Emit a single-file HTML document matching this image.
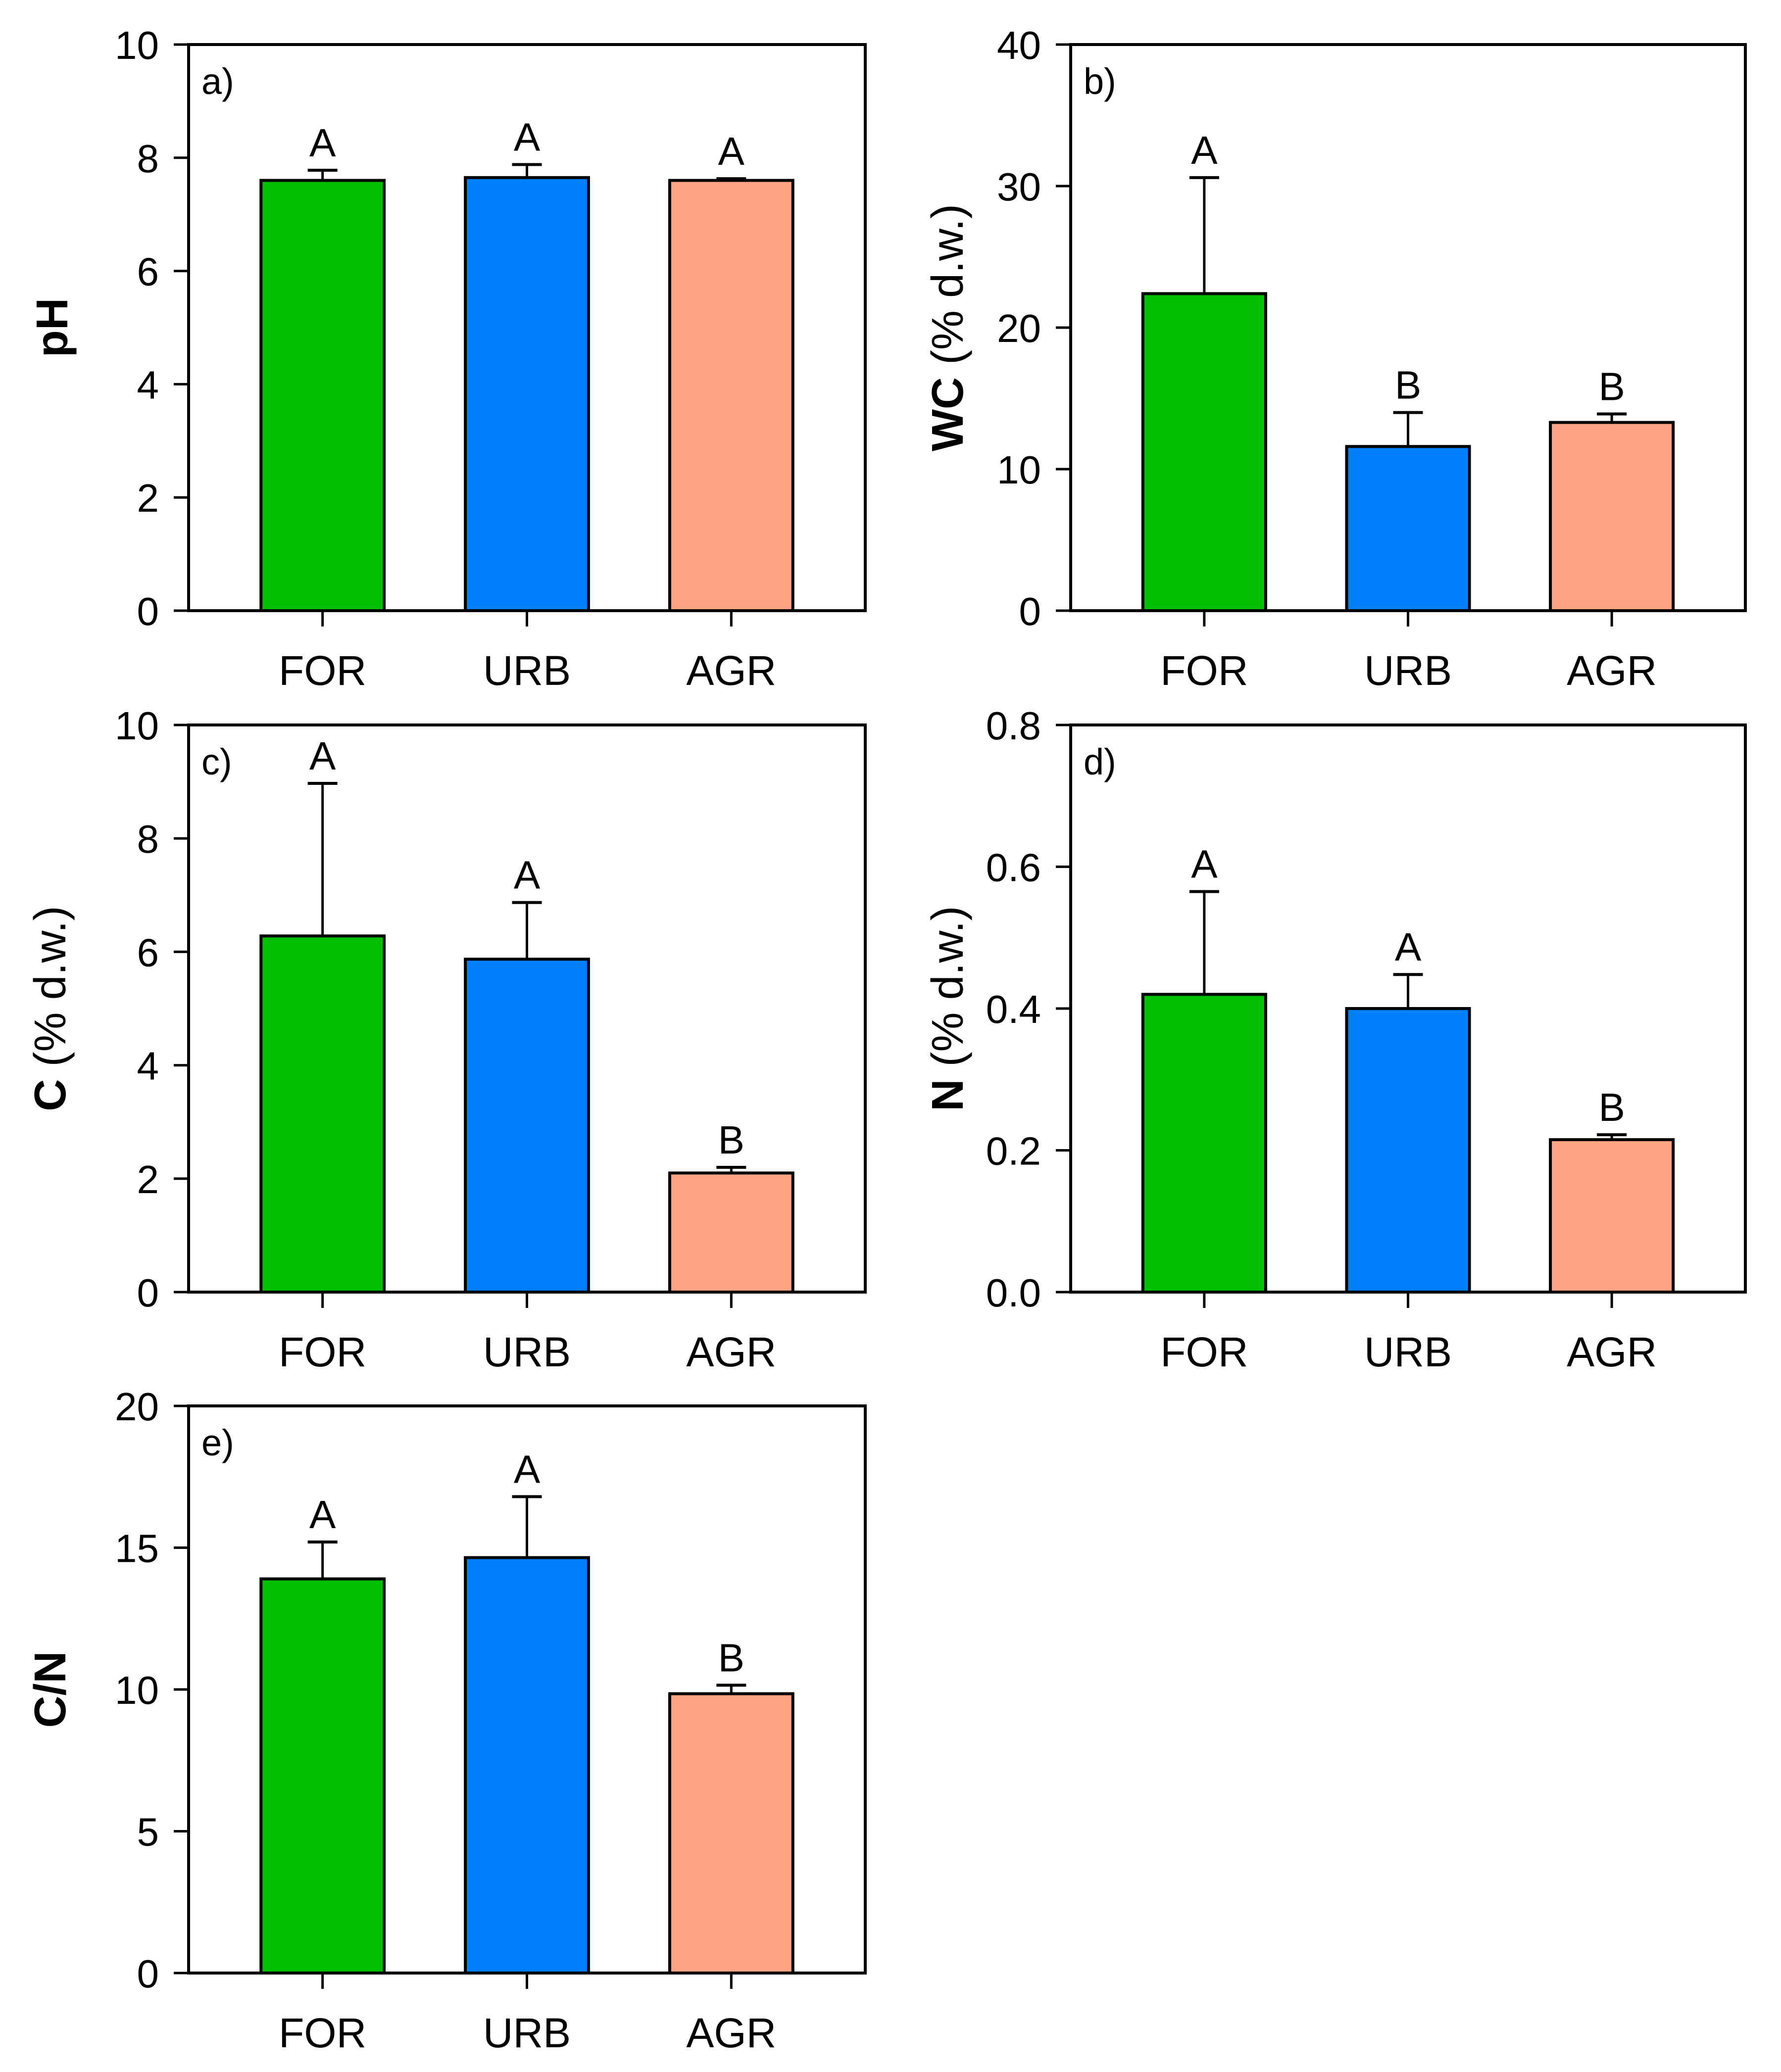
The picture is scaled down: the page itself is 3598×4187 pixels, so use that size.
<!DOCTYPE html>
<html><head><meta charset="utf-8"><style>
html,body{margin:0;padding:0;background:#fff}
svg{display:block}
text{font-family:"Liberation Sans",Arial,sans-serif;fill:#000}
</style></head><body>
<svg id="fig" width="3598" height="4187" viewBox="0 0 3598 4187" xmlns="http://www.w3.org/2000/svg"></svg>
<script>
const categories = ["FOR", "URB", "AGR"];
const barColors = ["#00BF00", "#0080FF", "#FFA383"];
const pHMeans = [7.6, 7.65, 7.6];
const pHErr = [0.18, 0.23, 0.03];
const pHLetters = ["A", "A", "A"];
const pHTicks = ["0", "2", "4", "6", "8", "10"];
const wcMeans = [22.4, 11.6, 13.3];
const wcErr = [8.2, 2.4, 0.6];
const wcLetters = ["A", "B", "B"];
const wcTicks = ["0", "10", "20", "30", "40"];
const cMeans = [6.28, 5.87, 2.1];
const cErr = [2.69, 1.0, 0.1];
const cLetters = ["A", "A", "B"];
const cTicks = ["0", "2", "4", "6", "8", "10"];
const nMeans = [0.42, 0.40, 0.215];
const nErr = [0.145, 0.048, 0.007];
const nLetters = ["A", "A", "B"];
const nTicks = ["0.0", "0.2", "0.4", "0.6", "0.8"];
const cnMeans = [13.9, 14.65, 9.85];
const cnErr = [1.3, 2.15, 0.3];
const cnLetters = ["A", "A", "B"];
const cnTicks = ["0", "5", "10", "15", "20"];

const NS = "http://www.w3.org/2000/svg";
const svg = document.getElementById("fig");
function mk(tag, attrs, parent) {
  const e = document.createElementNS(NS, tag);
  for (const k in attrs) e.setAttribute(k, attrs[k]);
  parent.appendChild(e);
  return e;
}

function panel(id, x0, y0, x1, y1, means, errs, letters, ticks, tag, titleBold, titleRest, titleX) {
  const g = mk("g", {}, svg);
  
  
  const W = x1 - x0, H = y1 - y0;
  const yMax = parseFloat(ticks[ticks.length - 1]);
  const yS = v => y1 - v / yMax * H;
  const xC = i => x0 + W * (0.198 + 0.302 * i);
  const bw = W * 0.182;
  means.forEach((m, i) => {
    const cx = xC(i);
    const top = yS(m + errs[i]);
    const eb = mk("g", {}, g);
    
    
    mk("line", {x1: cx, y1: yS(m), x2: cx, y2: top, stroke: "#000", "stroke-width": 5}, eb);
    mk("line", {x1: cx - 30, y1: top, x2: cx + 30, y2: top, stroke: "#000", "stroke-width": 6}, eb);
    const r = mk("rect", {x: cx - bw / 2, y: yS(m), width: bw, height: y1 - yS(m), fill: barColors[i], stroke: "#000", "stroke-width": 6}, g);
    
    
    const t = mk("text", {x: cx, y: top - 28, "text-anchor": "middle", "font-size": 80}, g);
    t.textContent = letters[i];
    
    
    const xt = mk("line", {x1: cx, y1: y1, x2: cx, y2: y1 + 32, stroke: "#000", "stroke-width": 5}, g);
    
    
    const xl = mk("text", {x: cx, y: y1 + 150, "text-anchor": "middle", "font-size": 84}, g);
    xl.textContent = categories[i];
    
    
  });
  const fr = mk("rect", {x: x0, y: y0, width: W, height: H, fill: "none", stroke: "#000", "stroke-width": 6}, g);
  
  
  ticks.forEach(tv => {
    const v = parseFloat(tv);
    const y = yS(v);
    const tl = mk("line", {x1: x0 - 30, y1: y, x2: x0, y2: y, stroke: "#000", "stroke-width": 5}, g);
    
    
    const tt = mk("text", {x: x0 - 60, y: y + 29, "text-anchor": "end", "font-size": 80}, g);
    tt.textContent = tv;
    
    
  });
  const pl = mk("text", {x: x0 + 26, y: y0 + 100, "font-size": 74}, g);
  pl.textContent = tag;
  
  
  const cy = (y0 + y1) / 2;
  const yt = mk("text", {x: titleX, y: cy, "text-anchor": "middle", "font-size": 90, transform: "rotate(-90 " + titleX + " " + cy + ")", dy: 32}, g);
  
  
  const b = mk("tspan", {"font-weight": "bold"}, yt);
  b.textContent = titleBold;
  if (titleRest) {
    const r2 = mk("tspan", {}, yt);
    r2.textContent = "\u00a0" + titleRest;
  }
}

panel("a", 381, 90, 1748, 1234, pHMeans, pHErr, pHLetters, pHTicks, "a)", "pH", "", 104);
panel("b", 2163, 90, 3526, 1234, wcMeans, wcErr, wcLetters, wcTicks, "b)", "WC", "(% d.w.)", 1913);
panel("c", 381, 1465, 1748, 2611, cMeans, cErr, cLetters, cTicks, "c)", "C", "(% d.w.)", 100);
panel("d", 2163, 1465, 3526, 2611, nMeans, nErr, nLetters, nTicks, "d)", "N", "(% d.w.)", 1913);
panel("e", 381, 2841, 1748, 3987, cnMeans, cnErr, cnLetters, cnTicks, "e)", "C/N", "", 100);
</script>
</body></html>
